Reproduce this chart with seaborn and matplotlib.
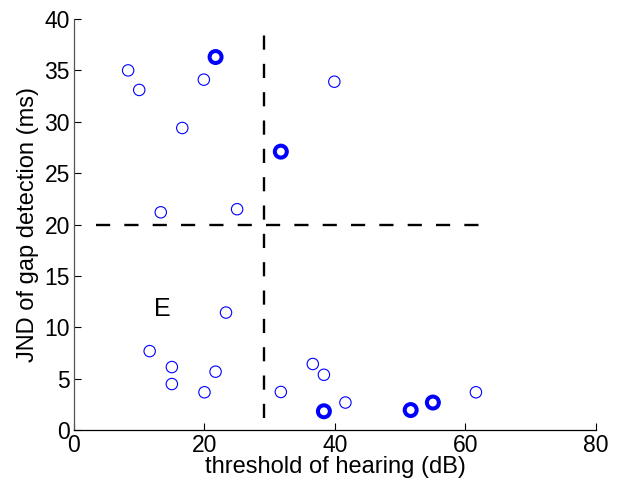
import matplotlib
matplotlib.use("Agg")
import matplotlib.pyplot as plt
import seaborn as sns
import pandas as pd

# thin (normal) circles
thin_x = [8.3, 10.0, 13.3, 16.6, 19.9, 25.0, 39.9,
          11.6, 15.0, 15.0, 20.0, 21.7, 23.3, 31.7, 36.6, 38.3, 41.6, 61.6]
thin_y = [35.0, 33.1, 21.2, 29.4, 34.1, 21.5, 33.9,
          7.7, 6.15, 4.5, 3.7, 5.7, 11.45, 3.73, 6.45, 5.4, 2.7, 3.7]
# thick (highlighted) circles
thick_x = [21.7, 31.7, 38.3, 51.6, 55.0]
thick_y = [36.3, 27.1, 1.85, 1.97, 2.7]

# reference dashed lines
vline_x = [29.1, 29.1]
vline_y = [1.2, 39.2]
hline_x = [3.4, 63.2]
hline_y = [20.0, 20.0]

x_ticks = [0, 20, 40, 60, 80]
y_ticks = [0, 5, 10, 15, 20, 25, 30, 35, 40]

sns.set_style("ticks")
plt.rcParams['font.family'] = ['Liberation Sans', 'DejaVu Sans']
plt.rcParams['text.color'] = 'black'
plt.rcParams['axes.labelcolor'] = 'black'

fig = plt.figure(figsize=(6.18, 4.83), dpi=100)
ax = fig.add_axes([0.1197, 0.1091, 0.8447, 0.8516])

thin_df = pd.DataFrame({"x": thin_x, "y": thin_y})
thick_df = pd.DataFrame({"x": thick_x, "y": thick_y})

ax.plot(vline_x, vline_y, color="black", lw=1.7, dashes=(6, 6))
ax.plot(hline_x, hline_y, color="black", lw=1.7, dashes=(6, 6))

sns.scatterplot(data=thin_df, x="x", y="y", ax=ax, marker="o", s=8.2**2,
                facecolor="none", edgecolor="#0000ff", linewidth=0.8, zorder=3)
sns.scatterplot(data=thick_df, x="x", y="y", ax=ax, marker="o", s=8.6**2,
                facecolor="none", edgecolor="#0000ff", linewidth=2.9, zorder=3)

ax.text(13.6, 11.8, "E", fontsize=18, ha="center", va="center", color="black")

ax.set_xlim(0, 80)
ax.set_ylim(0, 40)
ax.set_xticks(x_ticks)
ax.set_yticks(y_ticks)
ax.tick_params(direction="in", length=5, width=0.8, labelsize=16.5, pad=3,
               colors="black", bottom=True, left=True, top=False, right=False)
ax.set_xlabel("threshold of hearing (dB)", fontsize=17, labelpad=-1)
ax.set_ylabel("JND of gap detection (ms)", fontsize=17, labelpad=4)
for s in ["top", "right"]:
    ax.spines[s].set_visible(False)
ax.spines["left"].set_color("#555555")
ax.spines["bottom"].set_color("black")
for s in ["left", "bottom"]:
    ax.spines[s].set_linewidth(0.9)

fig.savefig("out.png", dpi=100)
